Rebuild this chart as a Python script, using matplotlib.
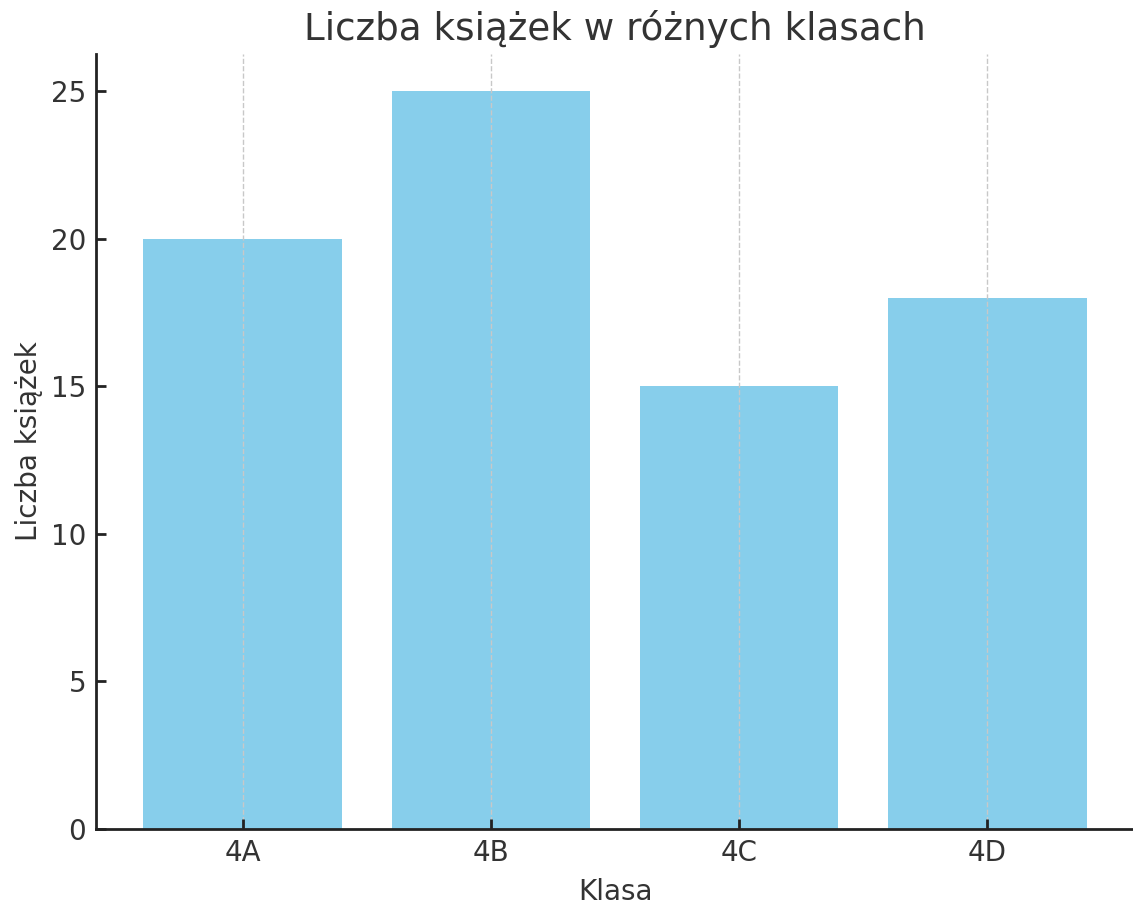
import matplotlib
matplotlib.use("Agg")
import matplotlib.pyplot as plt

classes = ["4A", "4B", "4C", "4D"]
books = [20, 25, 15, 18]

plt.rcParams['font.family'] = ['DejaVu Sans']

fig = plt.figure(figsize=(1133/200, 906/200), dpi=200)
ax = fig.add_axes([96/1133, 77/906, (1134-96)/1133, (829-54)/906])

ax.bar(classes, books, color="skyblue", width=0.8, zorder=1)
ax.set_axisbelow(False)
ax.grid(axis="x", linestyle="--", color="#c8c8c8", linewidth=0.5, zorder=3)
ax.grid(axis="y", visible=False)

ax.set_title("Liczba książek w różnych klasach", fontsize=13.4, color="#333333", pad=5)
ax.set_xlabel("Klasa", fontsize=10, color="#333333")
ax.set_ylabel("Liczba książek", fontsize=10, color="#333333", labelpad=3)

for s in ["top", "right"]:
    ax.spines[s].set_visible(False)
for s in ["left", "bottom"]:
    ax.spines[s].set_color("#222222")
    ax.spines[s].set_linewidth(1.0)

ax.tick_params(axis="both", direction="in", labelsize=10, colors="#222222", length=3.5, width=1.0)
ax.tick_params(axis="both", labelcolor="#333333")
ax.set_yticks([0, 5, 10, 15, 20, 25])

fig.savefig("out.png", dpi=200)
